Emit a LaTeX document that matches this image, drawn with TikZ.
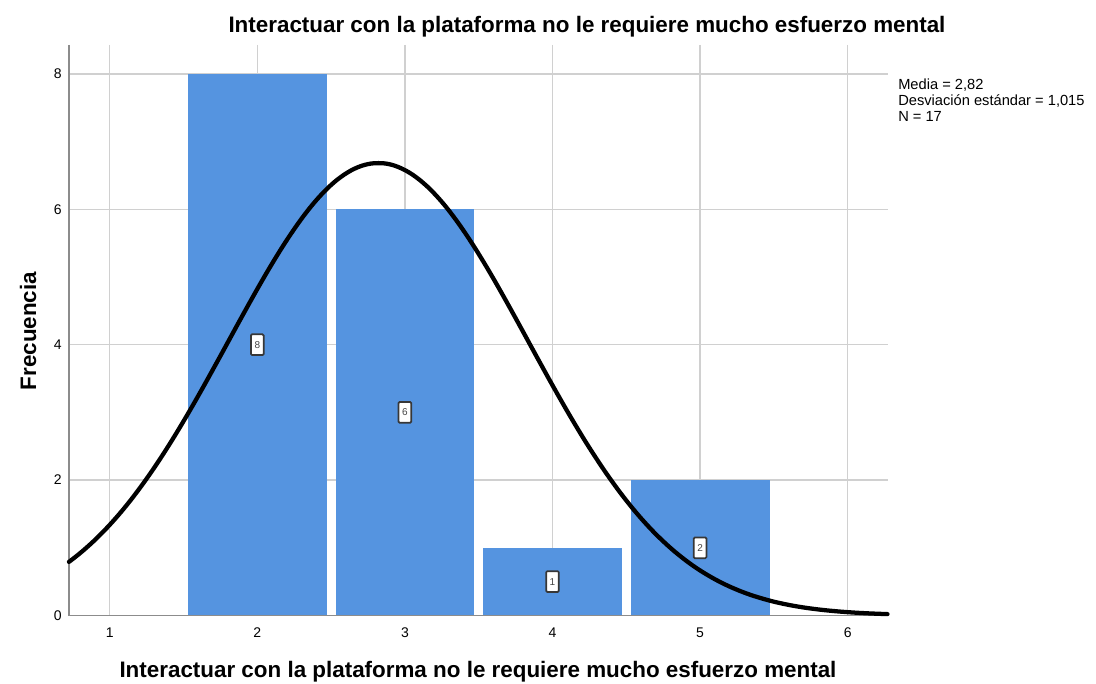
\documentclass[tikz,border=0pt]{standalone}
\usepackage{fontspec}
\setmainfont{Liberation Sans}
\usepackage{tikz}

\begin{document}
\begin{tikzpicture}[x=0.75pt,y=0.75pt,yscale=-1,xscale=1,
  gridline/.style={draw={rgb, 255:red, 208; green, 208; blue, 208 },line width=1.1pt},
  axisline/.style={draw={rgb, 255:red, 140; green, 140; blue, 140 },line width=1.2pt},
  bar/.style={fill={rgb, 255:red, 85; green, 148; blue, 224 },draw=none},
  countbox/.style={fill=white,draw={rgb, 255:red, 55; green, 55; blue, 55 },line width=1.3pt,rounded corners=0.8pt,inner sep=0pt,minimum width=9.5pt,minimum height=15.5pt,font=\fontsize{7.5pt}{8pt}\selectfont,text={rgb, 255:red, 70; green, 70; blue, 70 }},
  ticklabel/.style={inner sep=0.75pt,font=\fontsize{10.5pt}{12pt}\selectfont},
  axistitle/.style={inner sep=0.75pt,font=\fontsize{16.8pt}{19pt}\selectfont\bfseries}]
\useasboundingbox (0,0) rectangle (1096,684);

%Grid Lines 
\draw [gridline] (109.7,45) -- (109.7,615.5) ;
\draw [gridline] (257.3,45) -- (257.3,615.5) ;
\draw [gridline] (404.9,45) -- (404.9,615.5) ;
\draw [gridline] (552.5,45) -- (552.5,615.5) ;
\draw [gridline] (700.1,45) -- (700.1,615.5) ;
\draw [gridline] (847.7,45) -- (847.7,615.5) ;
\draw [gridline] (69,480.1) -- (887.7,480.1) ;
\draw [gridline] (69,344.7) -- (887.7,344.7) ;
\draw [gridline] (69,209.3) -- (887.7,209.3) ;
\draw [gridline] (69,73.9) -- (887.7,73.9) ;

%Shape: Rectangle [bars]
\draw [bar] (187.9,73.9) rectangle (326.7,615.5) ;
\draw [bar] (335.5,209.3) rectangle (474.3,615.5) ;
\draw [bar] (483.1,547.8) rectangle (621.9,615.5) ;
\draw [bar] (630.7,480.1) rectangle (769.5,615.5) ;

%Axes 
\draw [axisline] (69,45) -- (69,615.5) -- (887.7,615.5) ;

%Curve Lines [normal curve]
\draw [line width=3.2pt,line cap=round] plot [smooth,domain=0.724:6.27,samples=120] ({-37.9+147.6*\x},{615.5-67.7*6.682*exp(-((\x-2.82)^2)/(2*1.015^2))}) ;

% Text Node
\draw (257.3,344.7) node (lab8) [countbox] {8};
% Text Node
\draw (404.9,412.4) node (lab6) [countbox] {6};
% Text Node
\draw (552.5,581.6) node (lab1) [countbox] {1};
% Text Node
\draw (700.1,547.8) node (lab2) [countbox] {2};

% Text Node
\draw (63,615.5) node (y0) [anchor=east][ticklabel] {0};
% Text Node
\draw (63,480.1) node (y2) [anchor=east][ticklabel] {2};
% Text Node
\draw (63,344.7) node (y4) [anchor=east][ticklabel] {4};
% Text Node
\draw (63,209.3) node (y6) [anchor=east][ticklabel] {6};
% Text Node
\draw (63,73.9) node (y8) [anchor=east][ticklabel] {8};

% Text Node
\draw (109.7,633) node (x1) [ticklabel] {1};
% Text Node
\draw (257.3,633) node (x2) [ticklabel] {2};
% Text Node
\draw (404.9,633) node (x3) [ticklabel] {3};
% Text Node
\draw (552.5,633) node (x4) [ticklabel] {4};
% Text Node
\draw (700.1,633) node (x5) [ticklabel] {5};
% Text Node
\draw (847.7,633) node (x6) [ticklabel] {6};

% Text Node
\draw (587,27) node (title) [axistitle] {Interactuar con la plataforma no le requiere mucho esfuerzo mental};
% Text Node
\draw (478,672) node (xtitle) [axistitle] {Interactuar con la plataforma no le requiere mucho esfuerzo mental};
% Text Node
\draw (28,331) node (ytitle) [axistitle,rotate=90] {Frecuencia};

% Text Node
\draw (897,78) node (stats) [anchor=north west][inner sep=0.75pt,align=left,font=\fontsize{11pt}{11.8pt}\selectfont] {Media = 2,82\\Desviación estándar = 1,015\\N = 17};

\end{tikzpicture}
\end{document}
